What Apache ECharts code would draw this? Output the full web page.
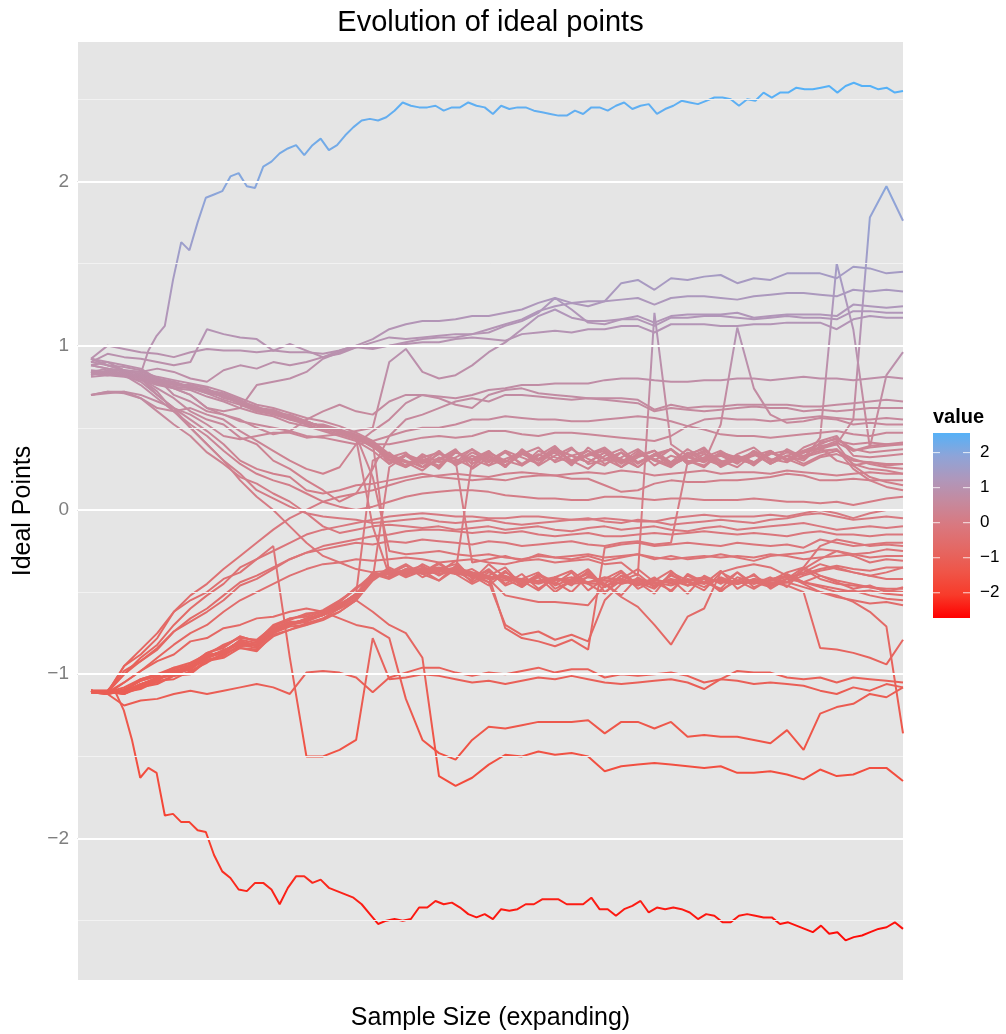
<!DOCTYPE html>
<html><head><meta charset="utf-8">
<script src="https://cdn.jsdelivr.net/npm/echarts@6/dist/echarts.min.js"></script>
<style>html,body{margin:0;padding:0;background:#fff}#c{width:1006px;height:1034px}</style>
</head><body><div id="c"></div>
<script>
// ---- data ----
const yTicks = [-2, -1, 0, 1, 2];
const yMinor = [-2.5, -1.5, -0.5, 0.5, 1.5, 2.5];
const legendTicks = [2, 1, 0, -1, -2];

const lineA = [0.83,0.84,0.84,0.82,0.82,0.80,0.82,0.97,1.06,1.12, 1.40,1.63,1.58,1.75,1.90,1.92,1.94,2.03,2.05,1.97, 1.96,2.09,2.12,2.17,2.20,2.22,2.16,2.22,2.26,2.19, 2.22,2.28,2.33,2.37,2.38,2.37,2.39,2.43,2.48,2.46, 2.45,2.45,2.46,2.43,2.45,2.45,2.48,2.46,2.45,2.41, 2.46,2.44,2.45,2.45,2.43,2.42,2.41,2.40,2.40,2.43, 2.41,2.45,2.45,2.43,2.46,2.48,2.44,2.46,2.47,2.41, 2.44,2.46,2.49,2.48,2.47,2.49,2.51,2.51,2.50,2.46, 2.50,2.49,2.54,2.51,2.54,2.54,2.57,2.56,2.56,2.57, 2.58,2.54,2.58,2.60,2.58,2.58,2.56,2.57,2.54,2.55];
const lineB = [-1.10,-1.11,-1.11,-1.11,-1.22,-1.40,-1.63,-1.57,-1.60,-1.86, -1.85,-1.90,-1.90,-1.95,-1.96,-2.10,-2.20,-2.24,-2.31,-2.32, -2.27,-2.27,-2.31,-2.40,-2.30,-2.23,-2.23,-2.27,-2.25,-2.30, -2.32,-2.34,-2.36,-2.40,-2.46,-2.52,-2.50,-2.49,-2.50,-2.49, -2.42,-2.42,-2.38,-2.40,-2.39,-2.42,-2.46,-2.48,-2.46,-2.49, -2.43,-2.44,-2.43,-2.40,-2.40,-2.37,-2.37,-2.37,-2.40,-2.40, -2.40,-2.36,-2.43,-2.43,-2.47,-2.43,-2.41,-2.38,-2.45,-2.42, -2.43,-2.42,-2.43,-2.45,-2.49,-2.46,-2.47,-2.51,-2.51,-2.47, -2.46,-2.47,-2.48,-2.48,-2.52,-2.51,-2.53,-2.55,-2.57,-2.53, -2.58,-2.57,-2.62,-2.60,-2.59,-2.57,-2.55,-2.54,-2.51,-2.55];

const up1 = [0.83,0.84,0.83,0.81,0.78,0.77,0.75,0.72,0.69,0.65, 0.61,0.60,0.56,0.53,0.51,0.48,0.45,0.40, 0.31,0.27,0.33,0.25,0.36,0.28,0.34,0.26,0.37,0.30, 0.35,0.27,0.38,0.31,0.29,0.36,0.27,0.33,0.30,0.26, 0.35,0.31,0.28,0.36,0.30,0.38,0.42,0.45,0.33,0.32,0.33,0.34];
const up2 = [0.84,0.86,0.85,0.84,0.81,0.79,0.77,0.75,0.72,0.68, 0.64,0.62,0.59,0.56,0.54,0.51,0.47,0.42, 0.34,0.30,0.26,0.35,0.29,0.37,0.31,0.27,0.34,0.38, 0.29,0.33,0.36,0.28,0.32,0.37,0.30,0.26,0.34,0.37, 0.29,0.33,0.27,0.35,0.31,0.36,0.40,0.44,0.36,0.38,0.39,0.40];
const up3 = [0.81,0.82,0.81,0.79,0.76,0.74,0.73,0.69,0.66,0.62, 0.59,0.57,0.53,0.51,0.48,0.45,0.42,0.36, 0.28,0.33,0.26,0.31,0.37,0.25,0.32,0.29,0.36,0.27, 0.33,0.38,0.28,0.30,0.35,0.26,0.34,0.29,0.37,0.31, 0.27,0.33,0.29,0.36,0.30,0.35,0.38,0.30,0.27,0.29,0.28,0.28];
const up4 = [0.83,0.82,0.84,0.83,0.80,0.76,0.76,0.74,0.68,0.66, 0.63,0.59,0.58,0.54,0.50,0.48,0.44,0.38, 0.33,0.29,0.24,0.32,0.28,0.35,0.30,0.36,0.27,0.33, 0.39,0.29,0.34,0.31,0.26,0.35,0.30,0.37,0.28,0.32, 0.27,0.34,0.38,0.30,0.35,0.33,0.36,0.37,0.28,0.25,0.24,0.22];
const up5 = [0.85,0.84,0.82,0.82,0.80,0.78,0.74,0.73,0.71,0.67, 0.62,0.61,0.57,0.52,0.52,0.49,0.46,0.41, 0.28,0.34,0.30,0.26,0.35,0.31,0.27,0.36,0.32,0.28, 0.37,0.33,0.29,0.35,0.26,0.32,0.36,0.29,0.33,0.38, 0.27,0.31,0.35,0.28,0.33,0.30,0.39,0.40,0.27,0.20,0.17,0.15];
const up6 = [0.82,0.85,0.83,0.80,0.78,0.78,0.75,0.71,0.70,0.65, 0.60,0.59,0.55,0.54,0.50,0.48,0.43,0.39, 0.30,0.26,0.34,0.29,0.32,0.37,0.27,0.31,0.35,0.28, 0.36,0.30,0.25,0.33,0.37,0.29,0.34,0.27,0.32,0.36, 0.30,0.26,0.34,0.29,0.37,0.32,0.41,0.43,0.37,0.35,0.36,0.37];
const jumpHigh = [0.83,0.84,0.83,0.82,0.79,0.77,0.75,0.72,0.69,0.66, 0.62,0.60,0.56,0.53,0.51,0.48,0.45,0.40,0.32,0.35, 0.26,0.30,0.36,0.28,0.33,0.27,0.35,0.30,0.37,0.29, 0.33,0.36,0.28,0.34,0.31,0.27,0.35,0.30,0.33,0.28, 0.36,0.31,0.29,0.35,0.37,0.40,0.55,1.78,1.97,1.76];
const spikeEnd = [0.84,0.83,0.83,0.81,0.78,0.76,0.75,0.73,0.70,0.66, 0.61,0.59,0.57,0.54,0.50,0.47,0.44,0.41,0.33,0.27, 0.32,0.35,0.28,0.31,0.36,0.27,0.34,0.30,0.37,0.33, 0.29,0.35,0.31,0.26,0.33,0.37,0.30,0.27,0.35,0.32, 0.28,0.34,0.36,0.31,0.44,1.50,1.10,0.38,0.82,0.96];
const spikeMid = [0.83,0.84,0.82,0.81,0.79,0.77,0.74,0.72,0.69,0.65, 0.61,0.60,0.57,0.53,0.51,0.47,0.44,0.39,0.30,0.33, 0.28,0.34,0.31,0.26,0.35,0.30,0.27,0.36,0.32,0.29, 0.34,0.38,0.30,0.33,0.36,0.28,0.32,0.29,0.52,1.11, 0.74,0.58,0.53,0.54,0.56,0.55,0.52,0.53,0.52,0.52];

const lo1 = [-1.10,-1.11,-1.11,-1.06,-1.03,-0.99,-0.97,-0.89,-0.86,-0.80, -0.83,-0.73,-0.69,-0.67,-0.64,-0.58,-0.51,-0.40, -0.39,-0.34,-0.41,-0.36,-0.33,-0.40,-0.44,-0.37,-0.47,-0.40, -0.45,-0.38,-0.49,-0.42,-0.37,-0.46,-0.41,-0.50,-0.39,-0.44, -0.48,-0.38,-0.45,-0.41,-0.47,-0.36,-0.42,-0.45,-0.46,-0.47,-0.49,-0.50];
const lo2 = [-1.11,-1.12,-1.10,-1.03,-1.00,-0.96,-0.93,-0.88,-0.82,-0.78, -0.79,-0.71,-0.67,-0.63,-0.62,-0.56,-0.47,-0.42, -0.35,-0.40,-0.33,-0.38,-0.31,-0.42,-0.36,-0.45,-0.39,-0.48, -0.41,-0.46,-0.37,-0.50,-0.43,-0.39,-0.47,-0.42,-0.51,-0.40, -0.45,-0.38,-0.47,-0.43,-0.38,-0.35,-0.40,-0.43,-0.45,-0.47,-0.48,-0.48];
const lo3 = [-1.10,-1.10,-1.12,-1.08,-1.06,-1.01,-0.99,-0.91,-0.89,-0.82, -0.84,-0.75,-0.71,-0.70,-0.66,-0.60,-0.54,-0.38, -0.41,-0.36,-0.38,-0.32,-0.39,-0.45,-0.40,-0.35,-0.46,-0.41, -0.50,-0.43,-0.38,-0.47,-0.42,-0.36,-0.44,-0.49,-0.40,-0.45, -0.37,-0.48,-0.42,-0.46,-0.44,-0.36,-0.30,-0.25,-0.28,-0.32,-0.30,-0.31];
const lo4 = [-1.11,-1.11,-1.11,-1.09,-1.04,-1.03,-0.98,-0.93,-0.87,-0.84, -0.85,-0.77,-0.73,-0.69,-0.66,-0.62,-0.55,-0.43, -0.36,-0.41,-0.37,-0.43,-0.34,-0.40,-0.46,-0.38,-0.43,-0.49, -0.41,-0.37,-0.45,-0.51,-0.40,-0.44,-0.48,-0.39,-0.46,-0.42, -0.50,-0.41,-0.44,-0.47,-0.39,-0.44,-0.47,-0.50,-0.49,-0.52,-0.54,-0.55];
const lo5 = [-1.10,-1.12,-1.09,-1.04,-1.01,-0.97,-0.94,-0.87,-0.84,-0.77, -0.80,-0.71,-0.66,-0.65,-0.62,-0.56,-0.48,-0.39, -0.42,-0.37,-0.34,-0.40,-0.35,-0.44,-0.38,-0.42,-0.47,-0.39, -0.44,-0.50,-0.40,-0.45,-0.38,-0.48,-0.43,-0.37,-0.46,-0.41, -0.49,-0.43,-0.40,-0.46,-0.42,-0.35,-0.22,-0.18,-0.20,-0.22,-0.21,-0.22];
const lo6 = [-1.11,-1.11,-1.12,-1.07,-1.05,-1.01,-1.00,-0.92,-0.90,-0.84, -0.86,-0.76,-0.73,-0.70,-0.67,-0.62,-0.55,-0.41, -0.38,-0.33,-0.39,-0.43,-0.36,-0.41,-0.37,-0.46,-0.42,-0.38, -0.48,-0.43,-0.39,-0.45,-0.52,-0.41,-0.47,-0.40,-0.44,-0.49, -0.38,-0.43,-0.48,-0.42,-0.40,-0.44,-0.40,-0.44,-0.48,-0.46,-0.50,-0.47];
const lo7 = [-1.10,-1.11,-1.10,-1.04,-1.01,-0.96,-0.95,-0.87,-0.83,-0.77, -0.80,-0.70,-0.66,-0.64,-0.61,-0.55,-0.48,-0.41, -0.37,-0.40,-0.35,-0.39,-0.37,-0.43,-0.33,-0.41,-0.45,-0.39, -0.46,-0.42,-0.36,-0.47,-0.40,-0.44,-0.51,-0.38,-0.43,-0.47, -0.41,-0.45,-0.39,-0.48,-0.42,-0.38,-0.33,-0.36,-0.38,-0.40,-0.38,-0.35];

const hi145 = [0.92,1.00,0.98,0.96,0.95,0.93,0.96,0.98,0.97,0.97, 0.96,0.97,0.96,0.96,0.95,0.97,1.00,1.04,1.10,1.13, 1.15,1.15,1.16,1.18,1.18,1.20,1.22,1.26,1.29,1.26, 1.27,1.27,1.38,1.40,1.34,1.41,1.40,1.42,1.43,1.38, 1.41,1.40,1.44,1.44,1.44,1.41,1.48,1.47,1.44,1.45];
const hi133 = [0.90,0.95,0.93,0.92,0.90,0.88,0.90,1.10,1.07,1.05, 1.04,0.97,1.01,0.97,0.93,0.95,0.99,1.02,1.05,1.04, 1.05,1.06,1.07,1.07,1.10,1.13,1.16,1.21,1.24,1.26, 1.24,1.27,1.28,1.29,1.25,1.29,1.30,1.30,1.29,1.28, 1.30,1.31,1.32,1.32,1.31,1.30,1.34,1.33,1.34,1.33];
const hi124 = [0.88,0.90,0.85,0.84,0.86,0.84,0.80,0.78,0.85,0.88, 0.86,0.90,0.88,0.90,0.93,0.97,1.00,0.99,1.00,1.02, 1.04,1.05,1.05,1.07,1.08,1.12,1.15,1.20,1.29,1.22, 1.14,1.13,1.16,1.18,1.14,1.18,1.19,1.19,1.19,1.20, 1.17,1.18,1.19,1.19,1.19,1.18,1.25,1.24,1.23,1.24];
const hi120 = [0.70,0.72,0.72,0.70,0.66,0.62,0.58,0.52,0.45,0.43, 0.45,0.47,0.47,0.44,0.45,0.46,0.48,0.50,0.90,0.98, 0.84,0.80,0.82,0.88,0.96,1.02,1.10,1.18,1.22,1.17, 1.15,1.15,1.16,1.16,1.12,1.17,1.17,1.18,1.18,1.17, 1.16,1.17,1.18,1.17,1.17,1.16,1.21,1.21,1.20,1.20];
const hi117 = [0.83,0.83,0.82,0.80,0.77,0.74,0.70,0.62,0.60,0.62, 0.76,0.78,0.80,0.84,0.92,0.96,0.99,0.98,1.00,1.01, 1.02,1.02,1.04,1.05,1.04,1.03,1.07,1.08,1.09,1.08, 1.10,1.10,1.12,1.12,1.08,1.13,1.13,1.13,1.12,1.12, 1.13,1.13,1.14,1.14,1.14,1.10,1.16,1.18,1.17,1.17];

const mid080 = [0.92,0.90,0.88,0.86,0.80,0.74,0.70,0.62,0.58,0.55, 0.50,0.46,0.48,0.55,0.60,0.64,0.60,0.58,0.66,0.70, 0.70,0.69,0.68,0.70,0.73,0.74,0.76,0.76,0.77,0.77, 0.77,0.79,0.80,0.80,0.79,0.78,0.78,0.79,0.79,0.80, 0.80,0.79,0.80,0.81,0.80,0.80,0.79,0.80,0.81,0.80];
const mid066 = [0.70,0.72,0.71,0.68,0.62,0.60,0.62,0.58,0.55,0.48, 0.42,0.36,0.30,0.25,0.22,0.26,0.40,0.48,0.55,0.65, 0.70,0.68,0.64,0.62,0.70,0.73,0.74,0.71,0.70,0.69, 0.68,0.68,0.68,0.67,0.61,0.64,0.62,0.63,0.63,0.64, 0.64,0.64,0.64,0.63,0.63,0.64,0.65,0.66,0.67,0.66];
const mid062 = [0.88,0.86,0.84,0.80,0.74,0.68,0.60,0.55,0.52,0.44, 0.40,0.30,0.25,0.18,0.12,0.05,0.10,0.25,0.45,0.55, 0.58,0.62,0.66,0.68,0.66,0.70,0.70,0.69,0.68,0.67, 0.68,0.67,0.66,0.65,0.60,0.62,0.61,0.60,0.61,0.62, 0.63,0.62,0.62,0.60,0.61,0.60,0.61,0.62,0.62,0.62];
const mid055 = [0.92,0.88,0.87,0.85,0.80,0.70,0.66,0.60,0.58,0.54, 0.52,0.50,0.48,0.45,0.44,0.42,0.40,0.42,0.45,0.48, 0.50,0.50,0.52,0.55,0.55,0.57,0.56,0.55,0.55,0.54, 0.54,0.55,0.56,0.57,0.56,0.54,0.51,0.55,0.56,0.55, 0.55,0.54,0.55,0.56,0.57,0.56,0.55,0.55,0.56,0.55];
const mid047 = [0.83,0.84,0.83,0.81,0.78,0.77,0.75,0.72,0.69,0.65, 0.61,0.60,0.56,0.53,0.51,0.48,0.45,0.40,0.40,0.42, 0.44,0.45,0.44,0.45,0.48,0.48,0.46,0.45,0.47,0.47, 0.46,0.45,0.44,0.43,0.42,0.45,0.51,0.49,0.46,0.45, 0.45,0.44,0.45,0.46,0.47,0.48,0.46,0.45,0.47,0.47];
const mid022 = [-1.10,-1.11,-0.95,-0.85,-0.75,-0.62,-0.52,-0.45,-0.36,-0.28, -0.20,-0.12,-0.05,0.00,0.05,0.08,0.10,0.12,0.15,0.18, 0.20,0.21,0.22,0.21,0.20,0.22,0.23,0.22,0.21,0.22, 0.23,0.22,0.24,0.23,0.21,0.22,0.23,0.24,0.22,0.23, 0.23,0.22,0.24,0.23,0.22,0.21,0.22,0.23,0.22,0.22];
const mid018 = [0.83,0.84,0.82,0.78,0.70,0.62,0.55,0.48,0.40,0.30, 0.25,0.22,0.20,0.12,0.10,0.12,0.15,0.16,0.18,0.20, 0.22,0.20,0.19,0.18,0.19,0.18,0.20,0.21,0.21,0.19, 0.19,0.15,0.11,0.12,0.16,0.18,0.17,0.17,0.18,0.18, 0.19,0.20,0.22,0.21,0.18,0.18,0.19,0.18,0.18,0.18];
const mid008 = [0.92,0.88,0.85,0.80,0.72,0.60,0.52,0.45,0.36,0.28, 0.22,0.18,0.15,0.10,0.05,0.02,0.00,0.02,0.05,0.08, 0.10,0.11,0.12,0.12,0.11,0.09,0.08,0.07,0.07,0.06, 0.06,0.08,0.08,0.07,0.06,0.07,0.07,0.06,0.06,0.06, 0.07,0.06,0.05,0.05,0.04,0.05,0.03,0.05,0.07,0.08];
const mid000 = [-1.10,-1.11,-1.00,-0.90,-0.82,-0.70,-0.60,-0.52,-0.45,-0.35, -0.30,-0.25,-0.20,-0.15,-0.12,-0.10,-0.08,-0.06,-0.04,-0.03, -0.02,-0.03,-0.04,-0.04,-0.05,-0.05,-0.04,-0.04,-0.05,-0.06, -0.06,-0.05,-0.06,-0.07,-0.07,-0.05,-0.04,-0.03,-0.04,-0.04, -0.04,-0.03,-0.04,-0.02,0.00,-0.02,-0.05,-0.02,0.00,0.00];
const midM005 = [0.90,0.88,0.85,0.80,0.70,0.62,0.50,0.40,0.30,0.22, 0.12,0.07,0.02,-0.02,-0.04,-0.05,-0.06,-0.08,-0.07,-0.06, -0.05,-0.07,-0.08,-0.07,-0.06,-0.08,-0.09,-0.08,-0.07,-0.06, -0.05,-0.07,-0.08,-0.06,-0.07,-0.09,-0.08,-0.07,-0.06,-0.07, -0.08,-0.06,-0.05,-0.03,-0.02,-0.04,-0.06,-0.05,-0.04,-0.05];
const midM010 = [0.70,0.71,0.72,0.68,0.60,0.52,0.45,0.35,0.28,0.20, 0.16,0.10,0.05,-0.02,-0.10,-0.14,-0.12,-0.10,-0.09,-0.10, -0.11,-0.10,-0.12,-0.11,-0.10,-0.12,-0.11,-0.10,-0.12,-0.13, -0.11,-0.10,-0.12,-0.11,-0.10,-0.12,-0.13,-0.11,-0.10,-0.12, -0.11,-0.10,-0.09,-0.08,-0.10,-0.12,-0.11,-0.10,-0.11,-0.10];
const midM015 = [-1.10,-1.10,-0.98,-0.92,-0.85,-0.74,-0.68,-0.62,-0.55,-0.46, -0.42,-0.36,-0.30,-0.26,-0.22,-0.20,-0.18,-0.16,-0.15,-0.13, -0.12,-0.12,-0.13,-0.14,-0.13,-0.14,-0.13,-0.15,-0.16,-0.15, -0.14,-0.16,-0.16,-0.15,-0.14,-0.15,-0.14,-0.13,-0.14,-0.15, -0.14,-0.15,-0.16,-0.14,-0.13,-0.15,-0.15,-0.16,-0.15,-0.15];
const midM020 = [-1.10,-1.11,-1.11,-1.06,-1.03,-0.99,-0.97,-0.89,-0.86,-0.80, -0.83,-0.73,-0.69,-0.67,-0.64,-0.58,-0.51,-0.40,-0.39,-0.38, -0.36,-0.35,-0.37,-0.38,-0.40,-0.72,-0.78,-0.80,-0.83,-0.79, -0.85,-0.23,-0.21,-0.20,-0.22,-0.21,-0.20,-0.21,-0.22,-0.20, -0.21,-0.22,-0.21,-0.23,-0.18,-0.20,-0.22,-0.21,-0.20,-0.20];
const midM028 = [0.83,0.84,0.83,0.81,0.78,0.77,0.75,0.72,0.69,0.65, 0.61,0.60,0.56,0.53,0.51,0.48,0.45,0.20,-0.25,-0.27, -0.26,-0.25,-0.27,-0.28,-0.27,-0.29,-0.30,-0.28,-0.29,-0.28, -0.27,-0.29,-0.28,-0.27,-0.29,-0.30,-0.29,-0.28,-0.29,-0.28, -0.29,-0.27,-0.28,-0.30,-0.29,-0.28,-0.27,-0.29,-0.28,-0.28];
const midM035 = [0.83,0.83,0.82,0.80,0.77,0.75,0.74,0.71,0.67,0.64, 0.60,0.58,0.55,0.52,0.49,0.46,0.43,-0.10,-0.40,-0.38, -0.37,-0.39,-0.36,-0.40,-0.42,-0.41,-0.43,-0.45,-0.42,-0.44, -0.41,-0.43,-0.45,-0.42,-0.44,-0.46,-0.43,-0.41,-0.44,-0.43, -0.45,-0.43,-0.41,-0.39,-0.36,-0.34,-0.36,-0.37,-0.35,-0.35];
const midM042 = [0.88,0.86,0.82,0.76,0.68,0.60,0.50,0.40,0.30,0.18, 0.08,0.00,-0.10,-0.20,-0.28,-0.32,-0.36,-0.38,-0.37,-0.39, -0.38,-0.37,-0.39,-0.40,-0.41,-0.43,-0.42,-0.44,-0.43,-0.41, -0.44,-0.43,-0.42,-0.45,-0.43,-0.44,-0.42,-0.44,-0.43,-0.45, -0.42,-0.43,-0.44,-0.40,-0.37,-0.35,-0.38,-0.40,-0.42,-0.42];

const dipA = [-1.11,-1.11,-1.10,-1.07,-1.02,-1.00,-0.96,-0.90,-0.86,-0.81, -0.82,-0.74,-0.70,-0.67,-0.63,-0.59,-0.52,-0.41,-0.38,-0.39, -0.37,-0.36,-0.38,-0.39,-0.44,-0.70,-0.76,-0.74,-0.79,-0.76, -0.80,-0.55,-0.45,-0.43,-0.46,-0.42,-0.44,-0.45,-0.42,-0.44, -0.43,-0.45,-0.42,-0.44,-0.46,-0.48,-0.50,-0.49,-0.51,-0.52];
const dipB = [-1.10,-1.10,-1.12,-1.07,-1.04,-0.98,-0.96,-0.88,-0.87,-0.79, -0.81,-0.72,-0.68,-0.68,-0.63,-0.57,-0.52,-0.38,-0.41,-0.36, -0.38,-0.33,-0.39,-0.36,-0.42,-0.52,-0.54,-0.56,-0.56,-0.57, -0.58,-0.46,-0.44,-0.42,-0.45,-0.43,-0.46,-0.44,-0.42,-0.45, -0.43,-0.44,-0.46,-0.50,-0.84,-0.85,-0.87,-0.90,-0.94,-0.79];
const dipV = [-1.11,-1.11,-1.11,-1.08,-1.02,-1.01,-0.96,-0.90,-0.85,-0.82, -0.82,-0.75,-0.70,-0.66,-0.63,-0.59,-0.53,-0.41,-0.38,-0.37, -0.37,-0.36,-0.36,-0.39,-0.41,-0.41,-0.42,-0.44,-0.42,-0.43, -0.45,-0.45,-0.53,-0.59,-0.70,-0.82,-0.65,-0.60,-0.38,-0.35, -0.33,-0.35,-0.40,-0.45,-0.50,-0.52,-0.56,-0.62,-0.71,-1.36];

const jump1 = [-1.10,-1.11,-1.11,-1.06,-1.03,-0.99,-0.97,-0.89,-0.86,-0.80, -0.83,-0.73,-0.69,-0.67,-0.64,-0.58,-0.51,0.30,0.35,0.26, 0.31,0.27,0.36,0.30,0.33,0.26,0.36,0.31,0.38,0.28, 0.34,0.37,0.29,0.33,0.36,0.27,0.32,0.35,0.26,0.31, 0.28,0.35,0.31,0.27,0.32,0.34,0.30,0.29,0.27,0.28];
const jump2 = [-1.11,-1.11,-1.10,-1.06,-1.02,-1.00,-0.96,-0.90,-0.87,-0.81, -0.82,-0.74,-0.70,-0.66,-0.64,-0.59,-0.52,-0.42,0.26,0.33, 0.29,0.36,0.27,0.33,0.29,0.35,0.28,0.34,0.30,0.37, 0.31,0.27,0.35,0.29,0.33,0.37,0.28,0.31,0.34,0.29, 0.36,0.30,0.33,0.28,0.33,0.36,0.31,0.28,0.26,0.25];
const jump3 = [0.83,0.84,0.83,0.81,0.78,0.77,0.75,0.72,0.69,0.65, 0.61,0.60,0.56,0.53,0.51,0.48,0.45,0.42,-0.40,-0.36, -0.39,-0.37,-0.35,-0.38,-0.41,-0.40,-0.44,-0.43,-0.41,-0.45, -0.44,-0.41,-0.43,-0.46,-0.42,-0.45,-0.43,-0.41,-0.44,-0.45, -0.43,-0.46,-0.44,-0.47,-0.50,-0.53,-0.55,-0.57,-0.56,-0.58];
const jump4 = [-1.10,-1.12,-1.10,-1.07,-1.03,-1.00,-0.97,-0.90,-0.86,-0.80, -0.82,-0.73,-0.69,-0.67,-0.64,-0.58,-0.51,-0.41,-0.38,-0.37, -0.36,-0.36,-0.38,0.30,0.35,0.29,0.36,0.31,0.37,0.30, 0.36,0.31,0.35,0.28,0.34,0.37,0.29,0.32,0.36,0.30, 0.33,0.36,0.30,0.35,0.38,0.42,0.40,0.41,0.40,0.40];
const jump5 = [0.84,0.84,0.83,0.81,0.79,0.77,0.75,0.72,0.69,0.65, 0.62,0.60,0.56,0.53,0.51,0.48,0.45,0.40,0.32,0.29, 0.30,0.31,0.30,-0.32,-0.30,-0.28,-0.31,-0.27,-0.29,-0.30, -0.28,-0.31,-0.29,-0.27,-0.30,-0.28,-0.30,-0.29,-0.27,-0.29, -0.31,-0.28,-0.27,-0.26,-0.24,-0.25,-0.27,-0.26,-0.24,-0.25];
const jump6 = [-1.10,-1.11,-1.05,-0.98,-0.90,-0.82,-0.75,-0.70,-0.62,-0.55, -0.50,-0.45,-0.40,-0.36,-0.33,-0.32,-0.30,-0.31,-0.30,-0.29, -0.30,-0.32,-0.31,-0.30,-0.32,-0.33,-0.31,-0.30,-0.32,-0.31, -0.30,-0.33,-0.32,-0.40,1.20,0.40,0.33,0.29,0.35,0.30, 0.34,0.28,0.33,0.36,0.37,0.41,0.36,0.39,0.40,0.41];
const jump7 = [-1.11,-1.10,-1.00,-0.92,-0.84,-0.74,-0.66,-0.60,-0.52,-0.44, -0.40,-0.35,-0.30,-0.26,-0.24,-0.22,-0.20,-0.21,-0.19,-0.20, -0.18,-0.19,-0.20,-0.21,-0.19,-0.20,-0.22,-0.21,-0.20,-0.19, -0.21,-0.22,-0.20,-0.19,-0.21,-0.20,0.29,0.34,0.28,0.33, 0.29,0.35,0.30,0.32,0.35,0.37,0.25,0.18,0.14,0.12];

const low165 = [-1.10,-1.11,-1.08,-1.03,-1.00,-0.98,-0.95,-0.92,-0.88,-0.83, -0.82,-0.74,-0.70,-0.68,-0.64,-0.60,-0.55,-0.62,-0.70,-0.75, -0.90,-1.62,-1.68,-1.63,-1.55,-1.49,-1.50,-1.47,-1.49,-1.48, -1.50,-1.59,-1.56,-1.55,-1.54,-1.55,-1.56,-1.57,-1.56,-1.60, -1.60,-1.59,-1.61,-1.64,-1.58,-1.62,-1.61,-1.57,-1.57,-1.65];
const low130 = [-1.11,-1.12,-1.05,-0.98,-0.92,-0.88,-0.80,-0.78,-0.72,-0.70, -0.66,-0.65,-0.62,-0.60,-0.62,-0.66,-0.70,-0.72,-0.78,-1.15, -1.40,-1.48,-1.52,-1.40,-1.32,-1.33,-1.31,-1.29,-1.29,-1.29, -1.28,-1.36,-1.29,-1.29,-1.33,-1.29,-1.38,-1.37,-1.38,-1.38, -1.40,-1.42,-1.34,-1.46,-1.24,-1.20,-1.18,-1.12,-1.14,-1.08];
const low105 = [-1.11,-1.12,-1.19,-1.16,-1.15,-1.12,-1.10,-1.12,-1.10,-1.08, -1.06,-1.08,-1.12,-0.99,-0.98,-0.99,-1.02,-1.11,-1.02,-0.99, -0.96,-0.96,-0.99,-1.01,-0.99,-1.00,-0.98,-0.96,-0.99,-0.97, -0.97,-1.02,-1.00,-1.01,-1.00,-0.99,-1.01,-1.05,-1.03,-0.98, -0.99,-0.99,-1.02,-1.03,-1.02,-1.05,-1.02,-1.03,-1.04,-1.05];
const low108 = [-1.10,-1.11,-0.95,-0.88,-0.78,-0.62,-0.55,-0.50,-0.42,-0.38, -0.30,-0.22,-0.90,-1.50,-1.50,-1.46,-1.40,-0.78,-1.03,-1.02, -1.00,-1.01,-1.03,-1.05,-1.04,-1.06,-1.04,-1.02,-1.03,-1.01, -1.03,-1.05,-1.06,-1.05,-1.04,-1.03,-1.05,-1.09,-1.03,-1.04, -1.06,-1.05,-1.06,-1.07,-1.10,-1.12,-1.08,-1.10,-1.06,-1.08];

const allLines = [
  lo1, lo2, lo3, lo4, lo5, lo6, lo7, dipA, dipB, dipV, midM020,
  low165, low130, low105, low108, lineB,
  jump1, jump2, jump3, jump4, jump5, jump6, jump7,
  midM042, midM035, midM028, midM015, midM010, midM005, mid000, mid008, mid018, mid022,
  mid047, mid055, mid062, mid066, mid080,
  up1, up2, up3, up4, up5, up6, spikeMid, spikeEnd,
  hi117, hi120, hi124, hi133, hi145, jumpHigh, lineA
];

// colour scale (low -> high), Lab-interpolated red -> #56B1F7
const scaleColors = ['#FF0000','#F83B2A','#EF5548','#E46864','#D9787F','#C6899D','#AF97BB','#8EA4D8','#56B1F7'];
const valueMin = -2.72, valueMax = 2.56;

// ---- chart ----
const FONT = '"Liberation Sans", Arial, Helvetica, sans-serif';
const chart = echarts.init(document.getElementById('c'), null, {renderer: 'canvas'});

const gridData = yTicks.map(v => ({yAxis: v, lineStyle: {color: '#FFFFFF', width: 2, type: 'solid'}}))
  .concat(yMinor.map(v => ({yAxis: v, lineStyle: {color: '#F2F2F2', width: 1, type: 'solid'}})));

const series = [{
  type: 'line', data: [], z: 1, silent: true,
  markLine: {silent: true, symbol: ['none', 'none'], animation: false, label: {show: false},
    emphasis: {disabled: true}, data: gridData}
}];
allLines.forEach((arr) => {
  const n = arr.length;
  series.push({
    type: 'line', z: 2, silent: true, showSymbol: false, symbol: 'none',
    animation: false, emphasis: {disabled: true},
    lineStyle: {width: 2, opacity: 1},
    data: arr.map((v, i) => [1 + i * 99 / (n - 1), v])
  });
});

// legend colour bar geometry
const barX = 933, barY = 433, barW = 37, barH = 185;
const barStops = scaleColors.map((c, k) => ({offset: k / (scaleColors.length - 1), color: scaleColors[scaleColors.length - 1 - k]}));
const minus = v => (v < 0 ? '\u2212' + Math.abs(v) : String(v));
const legendGraphics = [
  {type: 'text', x: barX, y: 417, style: {text: 'value', fontSize: 20, fontWeight: 'bold', fontFamily: FONT, fill: '#000', align: 'left', verticalAlign: 'middle'}},
  {type: 'rect', shape: {x: barX, y: barY, width: barW, height: barH}, style: {fill: new echarts.graphic.LinearGradient(0, 0, 0, 1, barStops)}}
];
legendTicks.forEach(v => {
  const ty = barY + (valueMax - v) / (valueMax - valueMin) * barH;
  legendGraphics.push({type: 'line', shape: {x1: barX, y1: ty, x2: barX + 7, y2: ty}, style: {stroke: '#FFFFFF', lineWidth: 1, opacity: 0.8}});
  legendGraphics.push({type: 'line', shape: {x1: barX + barW - 7, y1: ty, x2: barX + barW, y2: ty}, style: {stroke: '#FFFFFF', lineWidth: 1, opacity: 0.8}});
  legendGraphics.push({type: 'text', x: 980, y: ty, style: {text: minus(v), fontSize: 17, fontFamily: FONT, fill: '#000', align: 'left', verticalAlign: 'middle'}});
});

chart.setOption({
  backgroundColor: '#FFFFFF',
  animation: false,
  grid: {left: 78, right: 103, top: 42, bottom: 54, show: true, backgroundColor: '#E5E5E5', borderWidth: 0},
  xAxis: {type: 'value', min: -0.585, max: 100, show: false},
  yAxis: {
    type: 'value', min: -2.861, max: 2.848,
    axisLine: {show: false},
    splitLine: {show: false},
    axisTick: {show: true, customValues: yTicks, length: 5, lineStyle: {color: '#7F7F7F', width: 1}},
    axisLabel: {show: true, customValues: yTicks, margin: 9, color: '#7F7F7F', fontSize: 19, fontFamily: FONT, formatter: minus}
  },
  visualMap: {
    type: 'continuous', show: false, dimension: 1, min: valueMin, max: valueMax,
    seriesIndex: allLines.map((a, k) => k + 1),
    inRange: {color: scaleColors}
  },
  graphic: [
    {type: 'text', x: 490.5, y: 23, style: {text: 'Evolution of ideal points', fontSize: 29, fontFamily: FONT, fill: '#000', align: 'center', verticalAlign: 'middle'}},
    {type: 'text', x: 490.5, y: 1018, style: {text: 'Sample Size (expanding)', fontSize: 25, fontFamily: FONT, fill: '#000', align: 'center', verticalAlign: 'middle'}},
    {type: 'text', x: 23, y: 511, rotation: Math.PI / 2, style: {text: 'Ideal Points', fontSize: 25, fontFamily: FONT, fill: '#000', align: 'center', verticalAlign: 'middle'}}
  ].concat(legendGraphics),
  series: series
});
</script></body></html>
